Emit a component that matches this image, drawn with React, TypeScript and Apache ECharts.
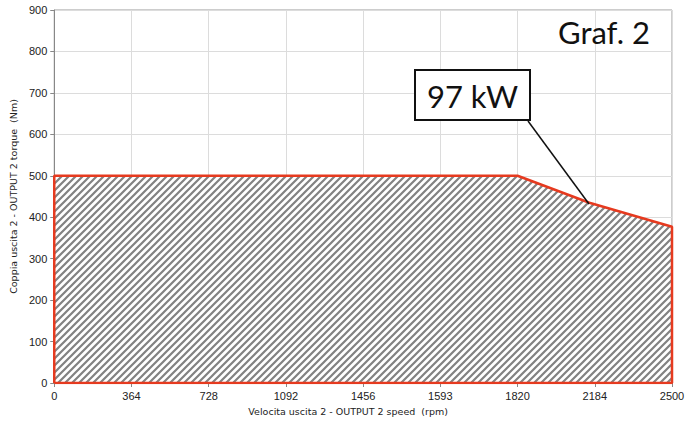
import React, { useEffect, useRef } from "react";
import * as echarts from "echarts";

// X axis tick labels (equally spaced positions 0..8)
const speedLabels = ["0", "364", "728", "1092", "1456", "1593", "1820", "2184", "2500"];
// Torque envelope outline, x given as position along the speed axis (index of tick)
const envelopeX = [0, 0, 6, 6.93, 8, 8, 0];
const envelopeTorque = [0, 500, 500, 435, 377, 0, 0];
const torqueTicks = { min: 0, max: 900, step: 100 };

const xName = "Velocita uscita 2 - OUTPUT 2 speed  (rpm)";
const yName = "Coppia uscita 2 - OUTPUT 2 torque  (Nm)";
const powerLabel = "97 kW";
const chartTitle = "Graf. 2";

function makeHatch(): HTMLCanvasElement {
  const s = 7;
  const c = document.createElement("canvas");
  c.width = s;
  c.height = s;
  const ctx = c.getContext("2d")!;
  ctx.fillStyle = "#ffffff";
  ctx.fillRect(0, 0, s, s);
  ctx.strokeStyle = "#828282";
  ctx.lineWidth = 2.2;
  ctx.beginPath();
  for (const o of [-s, 0, s]) {
    ctx.moveTo(o - 1, s + 1);
    ctx.lineTo(o + s + 1, -1);
  }
  ctx.stroke();
  return c;
}

export default function App() {
  const ref = useRef<HTMLDivElement>(null);
  useEffect(() => {
    if (!ref.current) return;
    const chart = echarts.init(ref.current, undefined, { renderer: "svg" });
    const data = envelopeX.map((x, i) => [x, envelopeTorque[i]]);
    chart.setOption({
      animation: false,
      backgroundColor: "#ffffff",
      grid: {
        left: 52,
        right: 21,
        top: 10,
        bottom: 32,
        show: true,
        borderColor: "#9a9a9a",
        borderWidth: 1,
      },
      xAxis: {
        type: "value",
        min: 0,
        max: speedLabels.length - 1,
        interval: 1,
        name: xName,
        nameLocation: "middle",
        nameGap: 23,
        nameTextStyle: {
          fontFamily: "DejaVu Sans, sans-serif",
          fontSize: 9.5,
          color: "#222",
          padding: [0, 30, 0, 0],
        },
        axisLine: { show: true, lineStyle: { color: "#888", width: 1 } },
        axisTick: { show: true, length: 4, lineStyle: { color: "#888" } },
        axisLabel: {
          formatter: (v: number) => speedLabels[Math.round(v)] ?? "",
          fontFamily: "Liberation Sans, Arial, sans-serif",
          fontSize: 11,
          color: "#222",
          margin: 7,
        },
        splitLine: { show: true, lineStyle: { color: "#dcdcdc", width: 1 } },
      },
      yAxis: {
        type: "value",
        min: torqueTicks.min,
        max: torqueTicks.max,
        interval: torqueTicks.step,
        name: yName,
        nameLocation: "middle",
        nameGap: 34,
        nameRotate: 90,
        nameTextStyle: {
          fontFamily: "DejaVu Sans, sans-serif",
          fontSize: 9.5,
          color: "#222",
        },
        axisLine: { show: true, lineStyle: { color: "#888", width: 1 } },
        axisTick: { show: true, length: 4, lineStyle: { color: "#888" } },
        axisLabel: {
          fontFamily: "Liberation Sans, Arial, sans-serif",
          fontSize: 11,
          color: "#222",
          margin: 7,
        },
        splitLine: { show: true, lineStyle: { color: "#dcdcdc", width: 1 } },
      },
      series: [
        {
          type: "line",
          data,
          symbol: "none",
          lineStyle: { color: "#e63a1f", width: 2.5 },
          areaStyle: { color: { image: makeHatch(), repeat: "repeat" }, opacity: 1 },
          z: 3,
        },
      ],
      graphic: [
        {
          type: "text",
          right: 43,
          top: 16,
          style: {
            text: chartTitle,
            font: "31px Lato, 'Open Sans', sans-serif",
            fill: "#111",
          },
          z: 10,
        },
        {
          type: "line",
          shape: { x1: 528, y1: 121, x2: 589, y2: 204 },
          style: { stroke: "#111", lineWidth: 1.5 },
          z: 10,
        },
        {
          type: "rect",
          shape: { x: 415, y: 70, width: 115, height: 50 },
          style: { fill: "#fff", stroke: "#111", lineWidth: 2 },
          z: 10,
        },
        {
          type: "text",
          x: 472.5,
          y: 96,
          style: {
            text: powerLabel,
            font: "31px Lato, 'Open Sans', sans-serif",
            fill: "#111",
            align: "center",
            verticalAlign: "middle",
          },
          z: 11,
        },
      ],
    });
    return () => chart.dispose();
  }, []);
  return (
    <div
      ref={ref}
      style={{ position: "fixed", left: 0, top: 0, width: 693, height: 421 }}
    />
  );
}
